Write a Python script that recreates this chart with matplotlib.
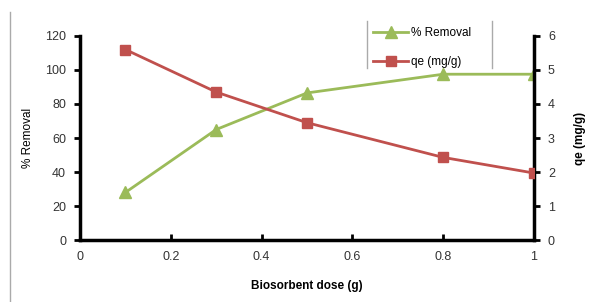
import matplotlib
matplotlib.use("Agg")
import matplotlib.pyplot as plt
from matplotlib.lines import Line2D

# data
dose = [0.1, 0.3, 0.5, 0.8, 1.0]
removal = [28, 65, 86.5, 97.5, 97.5]
qe = [5.6, 4.35, 3.45, 2.43, 1.97]

green = "#9BBB59"
red = "#C0504D"

plt.rcParams['font.family'] = ['Liberation Sans', 'DejaVu Sans']

fig = plt.figure(figsize=(5.95, 3.02), dpi=100)
ax = fig.add_axes([0.1345, 0.205, 0.763, 0.676])
ax2 = ax.twinx()

l1, = ax.plot(dose, removal, color=green, lw=2, marker="^", ms=8, label="% Removal", zorder=3)
l2, = ax2.plot(dose, qe, color=red, lw=2, marker="s", ms=7, label="qe (mg/g)", zorder=3)

ax.set_xlim(0, 1)
ax.set_ylim(0, 120)
ax2.set_ylim(0, 6)
ax.set_xticks([0, 0.2, 0.4, 0.6, 0.8, 1.0])
ax.set_xticklabels(["0", "0.2", "0.4", "0.6", "0.8", "1"])
ax.set_yticks(range(0, 121, 20))
ax2.set_yticks(range(0, 7))

for a in (ax, ax2):
    for s in a.spines.values():
        s.set_visible(False)
ax.spines['left'].set_visible(True)
ax.spines['bottom'].set_visible(True)
ax2.spines['right'].set_visible(True)
ax.spines['left'].set_linewidth(2.5)
ax.spines['bottom'].set_linewidth(2.5)
ax2.spines['right'].set_linewidth(2.5)

ax.tick_params(axis='y', direction='out', length=4, width=2, labelsize=9, colors='black', labelcolor='#333333', pad=6)
ax.tick_params(axis='x', direction='in', length=4, width=2, labelsize=9, labelcolor='#333333', pad=8)
ax2.tick_params(axis='y', direction='out', length=4, width=2, labelsize=9, labelcolor='#333333', pad=6)

ax.set_xlabel("Biosorbent dose (g)", fontsize=8.5, fontweight='bold', labelpad=12)
ax.set_ylabel("% Removal", fontsize=8.5, labelpad=8)
ax2.set_ylabel("qe (mg/g)", fontsize=8.5, fontweight='bold', labelpad=14)

leg = fig.legend(handles=[l1, l2], loc='upper left', bbox_to_anchor=(0.627, 0.91),
                 frameon=False, fontsize=8.5, handlelength=3.0, labelspacing=1.4,
                 handletextpad=0.2, borderpad=0, borderaxespad=0)

# thin gray rules from the original Excel export
fig.add_artist(Line2D([0.617, 0.617], [0.775, 0.93], color='#aaaaaa', lw=1))
fig.add_artist(Line2D([0.827, 0.827], [0.775, 0.93], color='#aaaaaa', lw=1))
fig.add_artist(Line2D([0.017, 0.017], [0.0, 0.96], color='#aaaaaa', lw=1))

fig.savefig("out.png", dpi=100)
